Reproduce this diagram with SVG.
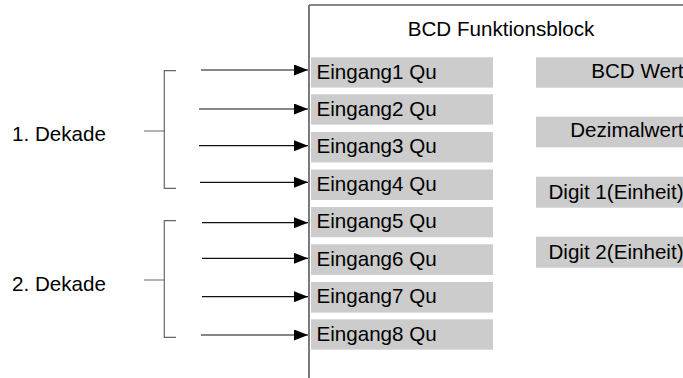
<svg xmlns="http://www.w3.org/2000/svg" width="683" height="378" viewBox="0 0 683 378">
<style>
text{font-family:"Liberation Sans",Arial,sans-serif;font-size:20.6px;fill:#000}
.box{fill:#cccccc}
.br{stroke:#666;stroke-width:1.2;fill:none}
.ar{stroke:#111;stroke-width:1.2;fill:none}
.r{text-anchor:end}
</style>
<defs>
<marker id="ah" markerWidth="14" markerHeight="11" refX="14" refY="5.5" orient="auto" markerUnits="userSpaceOnUse">
<path d="M0,0 L14,5.5 L0,11 Z" fill="#000"/>
</marker>
</defs>
<rect width="683" height="378" fill="#fff"/>
<g id="block">
<line x1="309" y1="5" x2="683" y2="5" stroke="#111" stroke-width="1.2"/>
<line x1="309" y1="5" x2="309" y2="378" stroke="#7a7a7a" stroke-width="2"/>
<text x="501" y="36" text-anchor="middle">BCD Funktionsblock</text>
</g>
<g id="in1"><rect class="box" x="311" y="57.3" width="182" height="30.3"/><text x="316.5" y="78.5">Eingang1 Qu</text></g>
<g id="in2"><rect class="box" x="311" y="94.3" width="182" height="30.3"/><text x="316.5" y="115.5">Eingang2 Qu</text></g>
<g id="in3"><rect class="box" x="311" y="132" width="182" height="30.5"/><text x="316.5" y="153.3">Eingang3 Qu</text></g>
<g id="in4"><rect class="box" x="311" y="169.5" width="182" height="30.5"/><text x="316.5" y="190.8">Eingang4 Qu</text></g>
<g id="in5"><rect class="box" x="311" y="207" width="182" height="30.3"/><text x="316.5" y="228.3">Eingang5 Qu</text></g>
<g id="in6"><rect class="box" x="311" y="244.3" width="182" height="30.6"/><text x="316.5" y="265.6">Eingang6 Qu</text></g>
<g id="in7"><rect class="box" x="311" y="282" width="182" height="30.6"/><text x="316.5" y="303.3">Eingang7 Qu</text></g>
<g id="in8"><rect class="box" x="311" y="319.3" width="182" height="30.4"/><text x="316.5" y="340.6">Eingang8 Qu</text></g>
<g id="out1"><rect class="box" x="536" y="57.3" width="150" height="30.4"/><text class="r" x="683.5" y="77.6">BCD Wert</text></g>
<g id="out2"><rect class="box" x="536" y="116.7" width="150" height="30.6"/><text class="r" x="683.5" y="137.3">Dezimalwert</text></g>
<g id="out3"><rect class="box" x="536" y="176.7" width="150" height="31"/><text class="r" x="683.5" y="198.6">Digit 1(Einheit)</text></g>
<g id="out4"><rect class="box" x="536" y="236.7" width="150" height="31"/><text class="r" x="683.5" y="258.6">Digit 2(Einheit)</text></g>
<g id="dek1">
<text x="12" y="141">1. Dekade</text>
<path class="br" d="M176,70.7 H164.3 V188.3 H176 M144,131 H164.3"/>
</g>
<g id="dek2">
<text x="12" y="290.5">2. Dekade</text>
<path class="br" d="M176,220.7 H164.3 V337.3 H176 M144,280 H164.3"/>
</g>
<g id="connectors">
<line class="ar" x1="201" y1="70" x2="308" y2="70" marker-end="url(#ah)"/>
<line class="ar" x1="199" y1="109" x2="308" y2="109" marker-end="url(#ah)"/>
<line class="ar" x1="199" y1="145.7" x2="308" y2="145.7" marker-end="url(#ah)"/>
<line class="ar" x1="200" y1="182.3" x2="308" y2="182.3" marker-end="url(#ah)"/>
<line class="ar" x1="202" y1="222.7" x2="308" y2="222.7" marker-end="url(#ah)"/>
<line class="ar" x1="202" y1="258.3" x2="308" y2="258.3" marker-end="url(#ah)"/>
<line class="ar" x1="202" y1="296.7" x2="308" y2="296.7" marker-end="url(#ah)"/>
<line class="ar" x1="201" y1="335" x2="308" y2="335" marker-end="url(#ah)"/>
</g>
</svg>
